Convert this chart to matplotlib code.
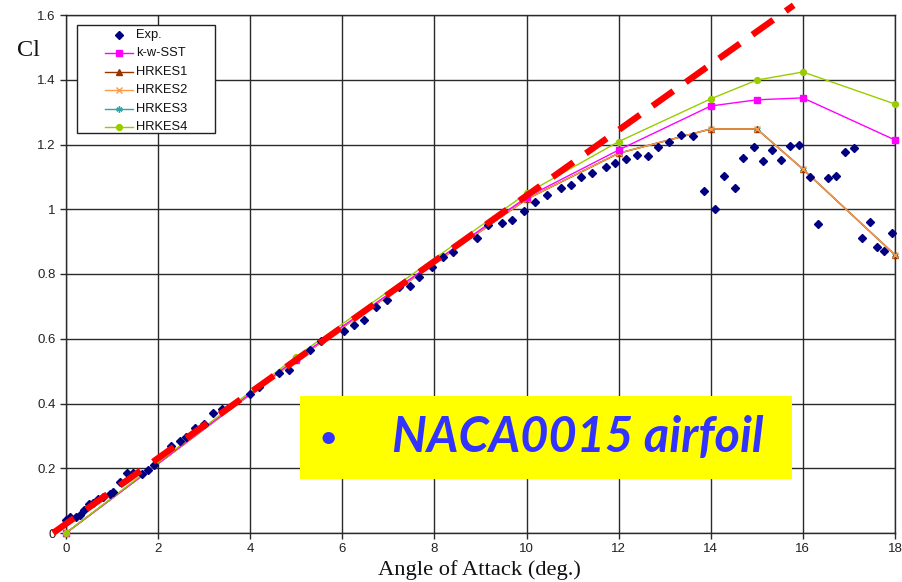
import matplotlib
matplotlib.use("Agg")
import matplotlib.pyplot as plt
from matplotlib.patches import Rectangle
from matplotlib.lines import Line2D

# ---------------- data ----------------
exp_aoa = [0.01, 0.09, 0.22, 0.30, 0.40, 0.50, 0.59, 0.70, 0.81, 0.95, 1.03, 1.17,
           1.33, 1.46, 1.64, 1.78, 1.91, 2.27, 2.47, 2.61, 2.81, 2.99, 3.19, 3.39,
           4.00, 4.20, 4.62, 4.84, 5.30, 5.53, 6.04, 6.25, 6.48, 6.73, 6.97, 7.24,
           7.46, 7.66, 7.94, 8.18, 8.41, 8.93, 9.17, 9.47, 9.69, 9.95, 10.19, 10.44,
           10.74, 10.96, 11.19, 11.43, 11.72, 11.91, 12.15, 12.40, 12.64, 12.86,
           13.10, 13.36, 13.61, 13.85, 14.10, 14.29, 14.53, 14.71, 14.94, 15.13,
           15.33, 15.53, 15.72, 15.92, 16.16, 16.32, 16.54, 16.72, 16.92, 17.11,
           17.29, 17.46, 17.60, 17.76, 17.93]
exp_cl = [0.040, 0.048, 0.050, 0.056, 0.071, 0.090, 0.094, 0.104, 0.110, 0.120, 0.128,
          0.158, 0.184, 0.186, 0.182, 0.195, 0.210, 0.269, 0.285, 0.296, 0.323, 0.336,
          0.370, 0.384, 0.429, 0.452, 0.495, 0.503, 0.565, 0.594, 0.625, 0.642, 0.658,
          0.699, 0.721, 0.761, 0.762, 0.790, 0.823, 0.853, 0.869, 0.912, 0.952, 0.957,
          0.968, 0.995, 1.021, 1.045, 1.067, 1.075, 1.101, 1.111, 1.132, 1.144, 1.155,
          1.168, 1.164, 1.191, 1.209, 1.229, 1.227, 1.057, 1.000, 1.104, 1.066, 1.158,
          1.191, 1.149, 1.183, 1.153, 1.195, 1.197, 1.099, 0.953, 1.096, 1.103, 1.176,
          1.188, 0.911, 0.962, 0.884, 0.872, 0.928]

cfd_aoa = [0, 5, 10, 12, 14, 15, 16, 18]
kw_sst = [0.0, 0.538, 1.037, 1.183, 1.319, 1.338, 1.344, 1.214]
hrkes1 = [0.0, 0.535, 1.031, 1.173, 1.248, 1.248, 1.124, 0.859]
hrkes2 = [0.0, 0.535, 1.031, 1.173, 1.248, 1.248, 1.124, 0.859]
hrkes3 = [0.0, 0.535, 1.031, 1.173, 1.248, 1.248, 1.124, 0.859]
hrkes4 = [0.0, 0.545, 1.049, 1.209, 1.341, 1.399, 1.424, 1.325]

# thin-airfoil style overlay line (slide annotation)
theory_aoa = [-0.28, 15.80]
theory_cl = [0.0, 1.63]

xticks = [0, 2, 4, 6, 8, 10, 12, 14, 16, 18]
yticks = [0, 0.2, 0.4, 0.6, 0.8, 1, 1.2, 1.4, 1.6]
ytick_labels = ["0", "0.2", "0.4", "0.6", "0.8", "1", "1.2", "1.4", "1.6"]
legend_labels = ["Exp.", "k-w-SST", "HRKES1", "HRKES2", "HRKES3", "HRKES4"]

# ---------------- figure ----------------
W, H = 902, 582
fig = plt.figure(figsize=(W / 100, H / 100), dpi=100)
fig.patch.set_facecolor("white")
ax = fig.add_axes([66 / W, 1 - 533 / H, (895 - 66) / W, (533 - 15) / H])
ax.set_xlim(0, 18)
ax.set_ylim(0, 1.6)

gridc = "#2a2a2a"
ax.set_xticks(xticks)
ax.set_yticks(yticks)
ax.set_yticklabels(ytick_labels)
ax.grid(True, color=gridc, linewidth=1.0)
ax.set_axisbelow(True)
for s in ax.spines.values():
    s.set_color(gridc)
    s.set_linewidth(1.0)
ax.tick_params(axis="both", direction="out", length=4.5, width=1.0, color=gridc,
               labelsize=9.5, labelcolor="#222222", pad=3)
for lab in ax.get_xticklabels() + ax.get_yticklabels():
    lab.set_family("Liberation Sans")

ms = 4.5
styles = {
    "HRKES3": dict(color="#33A3A3", marker=(6, 2, 0), ms=ms),
    "HRKES1": dict(color="#993300", marker="^", ms=ms + 0.5),
    "HRKES2": dict(color="#FF9944", marker="x", ms=ms - 0.5, mew=1.0),
    "k-w-SST": dict(color="#FF00FF", marker="s", ms=ms),
    "HRKES4": dict(color="#99CC00", marker="o", ms=ms - 0.3),
}
series = {"HRKES3": hrkes3, "HRKES1": hrkes1, "HRKES2": hrkes2,
          "k-w-SST": kw_sst, "HRKES4": hrkes4}
for i, (name, vals) in enumerate(series.items()):
    ax.plot(cfd_aoa, vals, lw=1.0, clip_on=False, zorder=3 + 0.1 * i, **styles[name])
exp_style = dict(linestyle="none", marker="D", ms=3.8, color="#000080")
ax.plot(exp_aoa, exp_cl, clip_on=False, zorder=3.6, **exp_style)

ax.plot(theory_aoa, theory_cl, color="#FF0000", lw=4.6, dashes=(4.0, 2.4),
        solid_capstyle="butt", dash_capstyle="butt", clip_on=False, zorder=4)

# ---------------- Excel-style legend (drawn in figure pixels) ----------------
def fx(px):
    return px / W

def fy(py):
    return 1 - py / H

fig.patches.append(Rectangle((fx(77), fy(133)), fx(215) - fx(77), fy(25) - fy(133),
                             transform=fig.transFigure, facecolor="white",
                             edgecolor="#222222", linewidth=1.0, zorder=6))
entry_y = [35, 53, 72, 90, 109, 127]
for lab, py in zip(legend_labels, entry_y):
    if lab == "Exp.":
        fig.lines.append(Line2D([fx(119)], [fy(py)], transform=fig.transFigure,
                                zorder=7, **exp_style))
    else:
        st = styles[lab]
        fig.lines.append(Line2D([fx(105), fx(133)], [fy(py), fy(py)], lw=1.0,
                                color=st["color"], transform=fig.transFigure, zorder=7))
        fig.lines.append(Line2D([fx(119)], [fy(py)], linestyle="none",
                                transform=fig.transFigure, zorder=7.1, **st))
    fig.text(fx(136), fy(py), lab, family="Liberation Sans", fontsize=9.3,
             ha="left", va="center", color="#111111", zorder=8)

# axis labels
fig.text(28 / W, 1 - 50 / H, "Cl", family="Liberation Serif", fontsize=17.5,
         ha="center", va="center", color="#111111")
fig.text(479 / W, 1 - 570 / H, "Angle of Attack (deg.)", family="Liberation Serif",
         fontsize=16.2, ha="center", va="center", color="#111111")

# yellow annotation box
fig.patches.append(Rectangle((300 / W, 1 - 479 / H), (792 - 300) / W, (479 - 396) / H,
                             transform=fig.transFigure, facecolor="#FFFF00",
                             edgecolor="none", zorder=10))
fig.text(328 / W, 1 - 439 / H, "\u2022", family="Lato", fontsize=24, color="#3333FF",
         ha="center", va="center", zorder=11)
fig.text(392 / W, 1 - 438 / H, "NACA0015 airfoil", family="Lato", fontsize=35,
         fontweight="bold", fontstyle="italic", color="#3333FF",
         ha="left", va="center", zorder=11)

fig.savefig("out.png", dpi=100)
